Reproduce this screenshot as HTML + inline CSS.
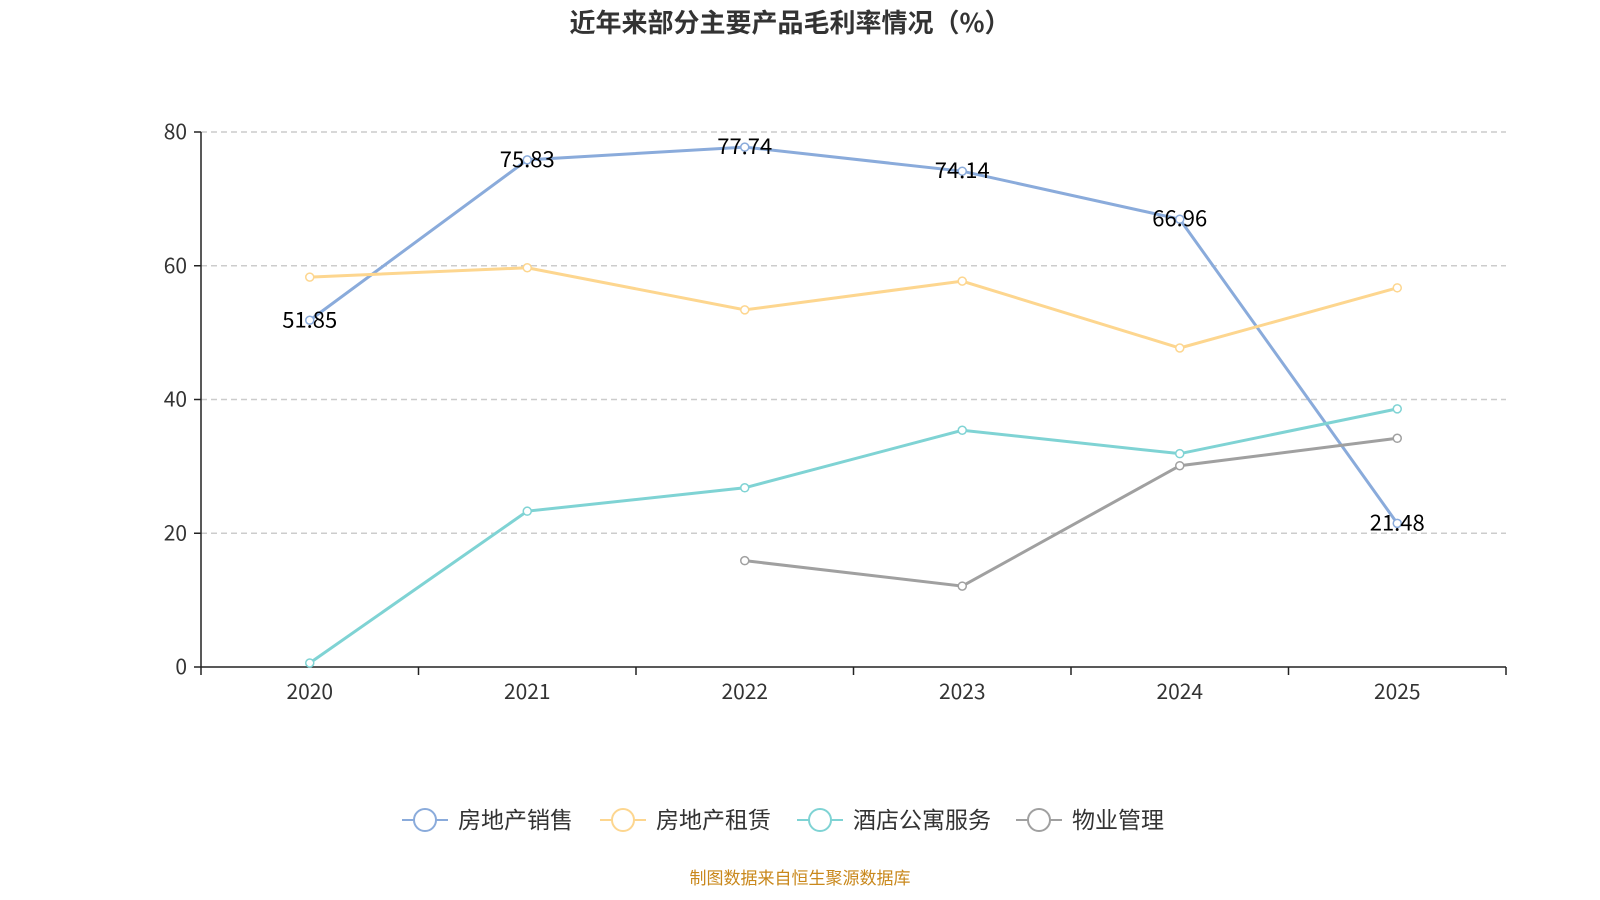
<!DOCTYPE html>
<html><head><meta charset="utf-8"><style>
html,body{margin:0;padding:0;background:#fff;width:1600px;height:900px;overflow:hidden}
svg text{font-family:"Noto Sans CJK SC","Liberation Sans",sans-serif}
</style></head><body>
<svg id="chart" width="1600" height="900" xmlns="http://www.w3.org/2000/svg">
<text x="790" y="32" text-anchor="middle" font-size="26" font-weight="bold" fill="#333">近年来部分主要产品毛利率情况（%）</text>
<g id="grid"></g>
<g id="axes"></g>
<g id="series"></g>
<g id="legend"></g>
<text x="800" y="884" text-anchor="middle" font-size="17" fill="#c9881c">制图数据来自恒生聚源数据库</text>
</svg>
<script>
const categories=["2020","2021","2022","2023","2024","2025"];
const yTicks=[0,20,40,60,80];
const seriesNames=["房地产销售","房地产租赁","酒店公寓服务","物业管理"];
const salesValues=[51.85,75.83,77.74,74.14,66.96,21.48];
const rentalValues=[58.3,59.7,53.4,57.7,47.7,56.7];
const hotelValues=[0.6,23.3,26.8,35.4,31.9,38.6];
const propertyValues=[null,null,15.9,12.1,30.1,34.2];
const colors=["#8aabdb","#fdd68f","#7fd3d4","#a0a0a0"];
const NS="http://www.w3.org/2000/svg";
const L=201,R=1506,T=132,B=667,YMAX=80;
const bw=(R-L)/categories.length;
const x=i=>L+bw*(i+0.5);
const y=v=>B-(v/YMAX)*(B-T);
function mk(tag,attrs,parent){const e=document.createElementNS(NS,tag);for(const k in attrs)e.setAttribute(k,attrs[k]);parent.appendChild(e);return e;}
const grid=document.getElementById('grid'),axes=document.getElementById('axes'),ser=document.getElementById('series'),leg=document.getElementById('legend');
yTicks.forEach(t=>{
  if(t>0){const g=mk('line',{x1:L,x2:R,y1:y(t),y2:y(t),stroke:'#ccc','stroke-width':1.5,'stroke-dasharray':'6,4'},grid);
  
  }
  const tk=mk('line',{x1:L-7,x2:L,y1:y(t),y2:y(t),stroke:'#222','stroke-width':1.5},axes);
  
  
  const lb=mk('text',{x:L-14,y:y(t)+7,'text-anchor':'end','font-size':'21',fill:'#333'},axes);lb.textContent=t;
  
  
});
const ya=mk('line',{x1:L,x2:L,y1:T,y2:B,stroke:'#222','stroke-width':1.5},axes);


const xa=mk('line',{x1:L,x2:R,y1:B,y2:B,stroke:'#222','stroke-width':1.5},axes);


for(let i=0;i<=categories.length;i++){const tk=mk('line',{x1:L+bw*i,x2:L+bw*i,y1:B,y2:B+8,stroke:'#222','stroke-width':1.5},axes);
  
  }
categories.forEach((c,i)=>{const t=mk('text',{x:x(i),y:B+32,'text-anchor':'middle','font-size':'21',fill:'#333'},axes);t.textContent=c;
  
  });
const all=[salesValues,rentalValues,hotelValues,propertyValues];
all.forEach((vals,s)=>{
  const g=mk('g',{},ser);
  
  
  let d='';vals.forEach((v,i)=>{if(v==null)return;d+=(d?'L':'M')+x(i)+','+y(v);});
  const p=mk('path',{d:d,fill:'none',stroke:colors[s],'stroke-width':3},g);
  
  
  vals.forEach((v,i)=>{if(v==null)return;const c=mk('circle',{cx:x(i),cy:y(v),r:4,fill:'#fff',stroke:colors[s],'stroke-width':1.5},g);
    
    
    if(s===0){const t=mk('text',{x:x(i),y:y(v)+7,'text-anchor':'middle','font-size':'22',fill:'#000'},g);t.textContent=v.toFixed(2);
      
      }
  });
});
const lx=[402,600,797,1016];
seriesNames.forEach((n,s)=>{
  const g=mk('g',{},leg);
  
  
  const bx=lx[s];
  mk('line',{x1:bx,x2:bx+46,y1:820,y2:820,stroke:colors[s],'stroke-width':2},g);
  mk('circle',{cx:bx+23,cy:820,r:11,fill:'#fff',stroke:colors[s],'stroke-width':2},g);
  const t=mk('text',{x:bx+56,y:828,'font-size':'23',fill:'#333'},g);t.textContent=n;
});
</script>
</body></html>
